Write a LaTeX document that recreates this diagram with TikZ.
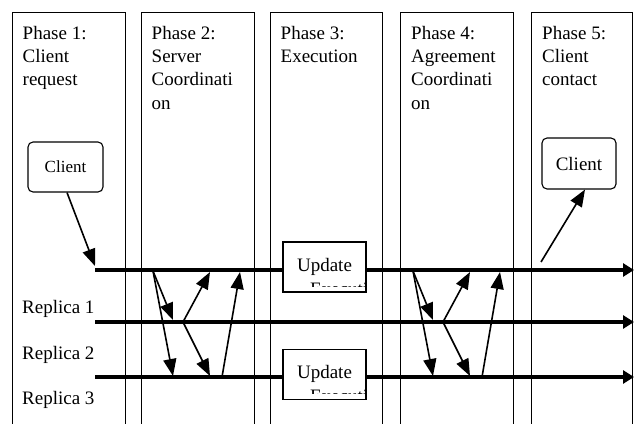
\documentclass[tikz,border=0pt]{standalone}
\usepackage{fontspec}
\setmainfont{Liberation Serif}
\usetikzlibrary{arrows.meta}

\begin{document}
\begin{tikzpicture}[x=1pt, y=-1pt,
    col/.style={rectangle, draw, line width=1pt, anchor=north west, minimum height=440pt, inner sep=0pt},
    ttl/.style={anchor=north west, inner sep=0pt, align=left, font=\fontsize{19}{23.3}\selectfont},
    rep/.style={anchor=base west, inner sep=0pt, font=\fontsize{19}{23}\selectfont},
    cli/.style={rectangle, draw, line width=1.1pt, rounded corners=5pt, minimum width=75pt, minimum height=50pt},
    upd/.style={rectangle, draw, line width=1.1pt, fill=white, minimum width=83pt, minimum height=50pt,
                inner sep=0pt, font=\fontsize{19}{23}\selectfont,
                path picture={\clip ([yshift=6pt]path picture bounding box.south west) rectangle (path picture bounding box.north east);
                  \node[anchor=base west, inner sep=0pt, font=\fontsize{19}{23}\selectfont]
                    at ([xshift=14pt,yshift=-3pt]path picture bounding box.south west) {Executi};}},
    tline/.style={line width=3.3pt},
    tarr/.style={line width=3.3pt, -{Triangle[length=11pt,width=13pt]}},
    arr/.style={line width=1.6pt, -{Triangle[length=17pt,width=13pt]}}
]
\useasboundingbox (0,0) rectangle (634,423);
\clip (0,0) rectangle (634,423);

\node[col, minimum width=113pt] (ph1) at (12,12) {};
\node[col, minimum width=113pt] (ph2) at (141,12) {};
\node[col, minimum width=112pt] (ph3) at (270,12) {};
\node[col, minimum width=113pt] (ph4) at (400,12) {};
\node[col, minimum width=101pt] (ph5) at (531,12) {};

\node[ttl] (t1) at ([xshift=10.5pt,yshift=-14pt]ph1.north west) {Phase 1:\\Client\\request};
\node[ttl] (t2) at ([xshift=10.5pt,yshift=-14pt]ph2.north west) {Phase 2:\\Server\\Coordinati\\on};
\node[ttl] (t3) at ([xshift=10.5pt,yshift=-14pt]ph3.north west) {Phase 3:\\Execution};
\node[ttl] (t4) at ([xshift=11pt,yshift=-14pt]ph4.north west) {Phase 4:\\Agreement\\Coordinati\\on};
\node[ttl] (t5) at ([xshift=11pt,yshift=-14pt]ph5.north west) {Phase 5:\\Client\\contact};

\node[cli, font=\fontsize{17}{20}\selectfont] (cl1) at (65.5,167) {Client};
\node[cli, font=\fontsize{19}{23}\selectfont, minimum width=74pt, minimum height=51pt] (cl2) at (579,163.5) {Client};

\node[rep] (r1) at (22,313) {Replica 1};
\node[rep] (r2) at (22,359) {Replica 2};
\node[rep] (r3) at (22,404) {Replica 3};

\coordinate (a0) at (95,270); \coordinate (a1) at (634,270);
\coordinate (b0) at (95,322); \coordinate (b1) at (634,322);
\coordinate (c0) at (95,377); \coordinate (c1) at (634,377);

\node[upd] (upd1) at (324.5,267) {Update};
\node[upd] (upd2) at (324.5,374.3) {Update};

\draw[tline] (a0) -- (a0 -| upd1.west);
\draw[tarr] (a0 -| upd1.east) -- (a1);
\draw[tarr] (b0) -- (b1);
\draw[tline] (c0) -- (c0 -| upd2.west);
\draw[tarr] (c0 -| upd2.east) -- (c1);

\foreach \dx in {0,260}{
  \coordinate (top) at (153+\dx,271);
  \coordinate (mid) at (183+\dx,322);
  \coordinate (bot) at (222+\dx,377);
  \coordinate (tA) at (173+\dx,320);
  \coordinate (tB) at (173+\dx,376);
  \coordinate (tC) at (210+\dx,272);
  \coordinate (tD) at (210+\dx,376);
  \coordinate (tE) at (240+\dx,272);
  \draw[arr] (top) -- (tA);
  \draw[arr] (top) -- (tB);
  \draw[arr] (mid) -- (tC);
  \draw[arr] (mid) -- (tD);
  \draw[arr] (bot) -- (tE);
}

\coordinate (rp) at (541,262);
\draw[arr] ([xshift=1.5pt]cl1.south) -- ([yshift=4pt]a0);
\draw[arr] (rp) -- ([xshift=6pt]cl2.south);
\end{tikzpicture}
\end{document}
